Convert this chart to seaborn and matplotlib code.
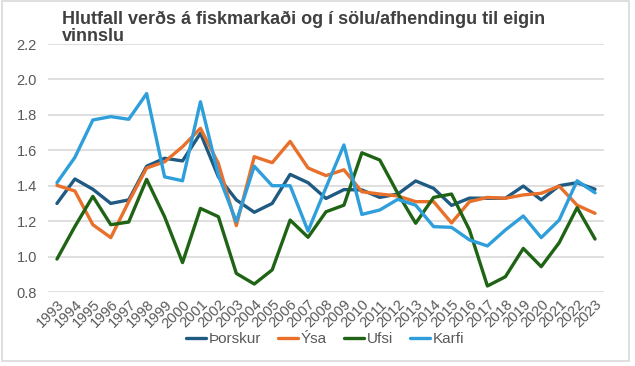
import matplotlib
matplotlib.use("Agg")
import matplotlib.pyplot as plt
import seaborn as sns
import pandas as pd
from matplotlib.patches import Rectangle

years = list(range(1993, 2024))
thorskur = [1.30, 1.438, 1.38, 1.30, 1.32, 1.51, 1.555, 1.54, 1.696, 1.45, 1.32, 1.25, 1.30,
            1.464, 1.417, 1.328, 1.378, 1.376, 1.334, 1.353, 1.427, 1.385, 1.289, 1.33,
            1.329, 1.329, 1.398, 1.32, 1.40, 1.417, 1.38]
ysa = [1.402, 1.37, 1.18, 1.107, 1.31, 1.50, 1.535, 1.62, 1.724, 1.526, 1.175, 1.564, 1.53,
       1.65, 1.50, 1.457, 1.49, 1.366, 1.353, 1.342, 1.31, 1.31, 1.19, 1.31,
       1.334, 1.329, 1.348, 1.357, 1.398, 1.29, 1.244]
ufsi = [0.986, 1.17, 1.34, 1.18, 1.195, 1.436, 1.225, 0.966, 1.272, 1.225, 0.905, 0.845, 0.925,
        1.206, 1.109, 1.253, 1.29, 1.586, 1.545, 1.357, 1.188, 1.334, 1.353, 1.15,
        0.834, 0.886, 1.046, 0.943, 1.078, 1.276, 1.099]
karfi = [1.417, 1.56, 1.771, 1.79, 1.775, 1.92, 1.45, 1.428, 1.874, 1.46, 1.197, 1.51, 1.40,
         1.40, 1.144, 1.39, 1.63, 1.238, 1.263, 1.323, 1.29, 1.169, 1.165, 1.094,
         1.06, 1.15, 1.229, 1.107, 1.206, 1.428, 1.36]
series_names = ["Þorskur", "Ýsa", "Ufsi", "Karfi"]
colors = ["#1F5A82", "#E8702A", "#1E6414", "#2E9FDB"]
title_lines = ["Hlutfall verðs á fiskmarkaði og í sölu/afhendingu til eigin", "vinnslu"]
yticks = [0.8, 1.0, 1.2, 1.4, 1.6, 1.8, 2.0, 2.2]

df = pd.DataFrame({
    "year": years * 4,
    "value": thorskur + ysa + ufsi + karfi,
    "series": sum([[n] * len(years) for n in series_names], []),
})

sns.set_theme(style="white")
plt.rcParams["font.family"] = ["Liberation Sans", "DejaVu Sans"]

fig = plt.figure(figsize=(6.35, 3.66), dpi=100)
ax = fig.add_axes([48 / 635, 1 - 292 / 366, (604 - 48) / 635, (292 - 44) / 366])

sns.lineplot(data=df, x="year", y="value", hue="series", hue_order=series_names,
             palette=colors, linewidth=2.4, ax=ax, legend=True)

ax.set_xlim(1992.5, 2023.5)
ax.set_ylim(0.8, 2.2)
ax.set_yticks(yticks)
ax.set_yticklabels([f"{v:.1f}" for v in yticks], fontsize=10.5, color="#595959")
ax.set_xticks(years)
ax.set_xticklabels([str(y) for y in years], rotation=45, ha="right",
                   rotation_mode="anchor", fontsize=10.5, color="#595959")
ax.tick_params(axis="both", length=0, pad=4)
ax.tick_params(axis="y", pad=8)
ax.grid(axis="y", color="#D9D9D9", linewidth=1.2)
ax.set_axisbelow(True)
for s in ax.spines.values():
    s.set_visible(False)
ax.set_xlabel("")
ax.set_ylabel("")

handles, labels = ax.get_legend_handles_labels()
ax.legend_.remove()
fig.legend(handles, labels, loc="center", bbox_to_anchor=(325 / 635, 1 - 339 / 366),
           ncol=4, frameon=False, fontsize=11, handlelength=1.3, handletextpad=0.2,
           columnspacing=1.1, labelcolor="#595959")

fig.text(62 / 635, 1 - 24 / 366, title_lines[0], ha="left", va="baseline", fontsize=13,
         fontweight="bold", color="#404040")
fig.text(62 / 635, 1 - 41 / 366, title_lines[1], ha="left", va="baseline", fontsize=13,
         fontweight="bold", color="#404040")

fig.patches.append(Rectangle((2 / 635, 5 / 366), 627 / 635, 360 / 366,
                             transform=fig.transFigure, fill=False,
                             edgecolor="#D9D9D9", linewidth=1.2))

fig.savefig("out.png", dpi=100)
